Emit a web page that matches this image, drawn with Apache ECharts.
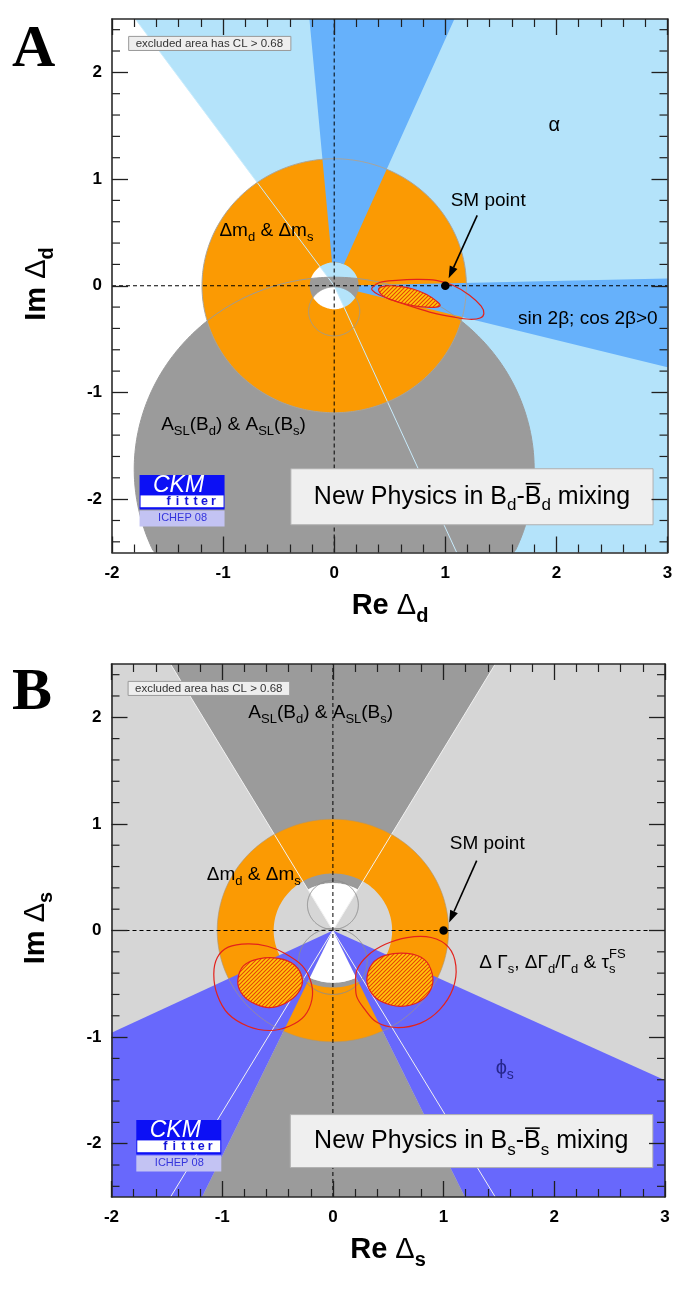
<!DOCTYPE html>
<html>
<head>
<meta charset="utf-8">
<script src="https://cdn.jsdelivr.net/npm/echarts@6/dist/echarts.min.js"></script>
<style>
html,body{margin:0;padding:0;background:#fff;}
#chart{width:685px;height:1296px;}
</style>
</head>
<body>
<div id="chart"></div>
<script>
// ================= DATA =================
const xLimits = [-2, 3];
const yLimits = [-2.5, 2.5];
const xTicks = [-2, -1, 0, 1, 2, 3];
const yTicks = [-2, -1, 0, 1, 2];

// ---- Panel A : B_d mixing (Re/Im Delta_d) ----
const smPointA = [1, 0];
const alphaWedgeA = [-66.2, 125.6];          // deg, alpha region (light blue)
const aslDiskA = [0, -1.72, 1.80];           // A_SL disk: cx, cy, r
const aslHoleA = [0, -0.24, 0.23];           // A_SL inner excluded disk
const dmRingA = [0, 0, 0.22, 1.19];          // Delta m ring: cx, cy, rIn, rOut
const sin2bWedgesA = [[66.6, 95.1], [-14.3, 1.3]];
const fitOuterA = [[0.342,-0.017],[0.408,0.030],[0.558,0.051],[0.738,0.060],[0.918,0.051],[1.068,0.004],[1.218,-0.089],[1.323,-0.192],[1.347,-0.261],[1.314,-0.302],[1.218,-0.314],[1.068,-0.292],[0.888,-0.254],[0.708,-0.198],[0.528,-0.136],[0.393,-0.080],[0.342,-0.042]];
const fitInnerA = [[0.402,-0.027],[0.468,-0.002],[0.588,-0.005],[0.708,-0.030],[0.828,-0.080],[0.918,-0.142],[0.954,-0.183],[0.918,-0.201],[0.828,-0.201],[0.708,-0.186],[0.588,-0.155],[0.483,-0.118],[0.423,-0.080]];

// ---- Panel B : B_s mixing (Re/Im Delta_s) ----
const smPointB = [1, 0];
const aslWedgesB = [[59.6, 120.4], [-115.3, -64.5]];
const aslCoreRadiiB = [0.445, 0.49];
const aslCirclesB = [[0, 0.24, 0.23], [0, -0.29, 0.31]];
const dmRingB = [0, 0, 0.535, 1.045];
const phiWedgesB = [[-154.4, -115.3], [-64.5, -25.1]];
const fitOuterLeftB = [[-1.076,-0.410],[-1.044,-0.254],[-0.946,-0.156],[-0.768,-0.125],[-0.591,-0.148],[-0.433,-0.215],[-0.276,-0.332],[-0.197,-0.488],[-0.189,-0.645],[-0.256,-0.801],[-0.394,-0.898],[-0.571,-0.938],[-0.768,-0.898],[-0.946,-0.781],[-1.044,-0.605]];
const fitOuterRightB = [[0.205,-0.527],[0.217,-0.371],[0.315,-0.234],[0.473,-0.129],[0.670,-0.066],[0.887,-0.066],[1.044,-0.156],[1.111,-0.332],[1.084,-0.547],[0.965,-0.742],[0.788,-0.871],[0.571,-0.910],[0.394,-0.859],[0.276,-0.723],[0.217,-0.625]];
const fitInnerLeftB = [[-0.859,-0.469],[-0.808,-0.332],[-0.670,-0.266],[-0.493,-0.262],[-0.347,-0.324],[-0.276,-0.457],[-0.315,-0.586],[-0.433,-0.684],[-0.583,-0.723],[-0.729,-0.676],[-0.827,-0.586]];
const fitInnerRightB = [[0.307,-0.449],[0.355,-0.313],[0.473,-0.234],[0.670,-0.215],[0.827,-0.273],[0.898,-0.410],[0.887,-0.547],[0.788,-0.664],[0.611,-0.711],[0.433,-0.664],[0.335,-0.566]];

// ================= STYLE =================
const FONT = '"Liberation Sans", Arial, Helvetica, sans-serif';
const SERIF = '"Liberation Serif", "Times New Roman", serif';
const COL = {
  lightBlue: '#b4e3fa', blueA: '#66b1fb', grayA: '#9b9b9b', orange: '#fb9a03',
  lightGray: '#d6d6d6', darkGray: '#9b9b9b', blueB: '#6868fc',
  red: '#e3221c', text: '#000'
};

// ================= GEOMETRY HELPERS =================
const D2R = Math.PI / 180;
const RECT = [[xLimits[0], yLimits[0]], [xLimits[1], yLimits[0]], [xLimits[1], yLimits[1]], [xLimits[0], yLimits[1]]];
function circ(cx, cy, r, rev) {
  const n = 220, p = [];
  for (let i = 0; i < n; i++) {
    const a = (rev ? -1 : 1) * 2 * Math.PI * i / n;
    p.push([cx + r * Math.cos(a), cy + r * Math.sin(a)]);
  }
  return p;
}
function sector(a0, a1, rIn, R) {
  R = R || 40;
  const n = Math.max(2, Math.ceil((a1 - a0) / 2)), p = [];
  for (let i = 0; i <= n; i++) { const a = (a0 + (a1 - a0) * i / n) * D2R; p.push([R * Math.cos(a), R * Math.sin(a)]); }
  if (rIn > 0) { for (let i = n; i >= 0; i--) { const a = (a0 + (a1 - a0) * i / n) * D2R; p.push([rIn * Math.cos(a), rIn * Math.sin(a)]); } }
  else p.push([0, 0]);
  return p;
}
function clip(subject, clipper) {
  let out = subject;
  for (let i = 0; i < clipper.length; i++) {
    const A = clipper[i], B = clipper[(i + 1) % clipper.length];
    const inp = out; out = [];
    if (!inp.length) break;
    const side = p => (B[0] - A[0]) * (p[1] - A[1]) - (B[1] - A[1]) * (p[0] - A[0]);
    for (let j = 0; j < inp.length; j++) {
      const Pp = inp[j], Q = inp[(j + 1) % inp.length];
      const sp = side(Pp), sq = side(Q);
      if (sp >= 0) out.push(Pp);
      if ((sp >= 0) !== (sq >= 0)) {
        const t = sp / (sp - sq);
        out.push([Pp[0] + t * (Q[0] - Pp[0]), Pp[1] + t * (Q[1] - Pp[1])]);
      }
    }
  }
  return out;
}
function insideRect(p) { return p[0] >= xLimits[0] && p[0] <= xLimits[1] && p[1] >= yLimits[0] && p[1] <= yLimits[1]; }
function arcs(cx, cy, r) {
  const segs = []; let cur = [];
  const n = 360;
  for (let i = 0; i <= n; i++) {
    const a = 2 * Math.PI * i / n, p = [cx + r * Math.cos(a), cy + r * Math.sin(a)];
    if (insideRect(p)) cur.push(p); else { if (cur.length > 1) segs.push(cur); cur = []; }
  }
  if (cur.length > 1) segs.push(cur);
  return segs;
}
function ray(angle) {
  const dx = Math.cos(angle * D2R), dy = Math.sin(angle * D2R);
  let t = 1e9;
  if (dx > 1e-9) t = Math.min(t, xLimits[1] / dx); if (dx < -1e-9) t = Math.min(t, xLimits[0] / dx);
  if (dy > 1e-9) t = Math.min(t, yLimits[1] / dy); if (dy < -1e-9) t = Math.min(t, yLimits[0] / dy);
  return [[0, 0], [t * dx, t * dy]];
}

// ================= ELEMENT HELPERS =================
function polyEl(P, pts, style, smooth) { return {type: 'polygon', shape: {points: pts.map(P), smooth: smooth || 0}, style: style}; }
function lineEl(P, pts, style) { return {type: 'polyline', shape: {points: pts.map(P)}, style: Object.assign({fill: null}, style)}; }
function ringEl(P, rings, style) {
  let d = '';
  rings.forEach(r => {
    if (!r.length) return;
    r.forEach((p, i) => { const c = P(p); d += (i ? 'L' : 'M') + c[0].toFixed(2) + ' ' + c[1].toFixed(2) + ' '; });
    d += 'Z ';
  });
  return {type: 'path', shape: {pathData: d}, style: style};
}
const mctx = document.createElement('canvas').getContext('2d');
function textW(t, font) { mctx.font = font; return mctx.measureText(t).width; }
// segs: [text, kind, weight, noAdvance]; kind: n | sub | sup | bar
function richText(segs, size, opt) {
  opt = opt || {};
  const family = opt.family || FONT, color = opt.color || COL.text;
  const small = Math.round(size * 0.68);
  const kids = []; let x = 0, pend = 0;
  segs.forEach(s => {
    const t = s[0], kind = s[1] || 'n', weight = s[2] || opt.weight || 'normal';
    const fs = (kind === 'sub' || kind === 'sup') ? small : size;
    const font = weight + ' ' + fs + 'px ' + family;
    const dy = kind === 'sub' ? size * 0.36 : kind === 'sup' ? -size * 0.45 : 0;
    const w = textW(t, font);
    kids.push({type: 'text', x: x, y: dy, style: {text: t, font: font, fill: color, textAlign: 'left', textVerticalAlign: 'middle', align: 'left', verticalAlign: 'middle'}});
    if (kind === 'bar') kids.push({type: 'line', shape: {x1: x + 1, y1: -size * 0.52, x2: x + w - 1, y2: -size * 0.52}, style: {stroke: color, lineWidth: Math.max(1.1, size / 16)}});
    if (s[3]) { pend = Math.max(pend, w); } else { x += Math.max(w, pend); pend = 0; }
  });
  return {kids: kids, width: x};
}
function placeText(segs, size, px, py, align, opt) {
  const r = richText(segs, size, opt);
  const f = align === 'left' ? 0 : align === 'right' ? 1 : 0.5;
  return {type: 'group', x: px - r.width * f, y: py, children: r.kids};
}
function hatchCanvas() {
  const c = document.createElement('canvas'); c.width = 4; c.height = 4;
  const g = c.getContext('2d');
  g.fillStyle = '#ffc80a'; g.fillRect(0, 0, 4, 4);
  g.strokeStyle = '#e8400a'; g.lineWidth = 1.1;
  g.beginPath(); g.moveTo(-1, 5); g.lineTo(5, -1); g.moveTo(-1, 1); g.lineTo(1, -1); g.moveTo(3, 5); g.lineTo(5, 3); g.stroke();
  return c;
}
const HATCH = {image: hatchCanvas(), repeat: 'repeat'};

function arrowEl(P, from, to) {
  const a = P(from), b = P(to);
  const dx = b[0] - a[0], dy = b[1] - a[1], L = Math.hypot(dx, dy), ux = dx / L, uy = dy / L;
  const hl = 12, hw = 4.2;
  const base = [b[0] - ux * hl, b[1] - uy * hl];
  return [
    {type: 'line', shape: {x1: a[0], y1: a[1], x2: base[0], y2: base[1]}, style: {stroke: '#000', lineWidth: 1.6}},
    {type: 'polygon', shape: {points: [b, [base[0] - uy * hw, base[1] + ux * hw], [base[0] + uy * hw, base[1] - ux * hw]]}, style: {fill: '#000'}}
  ];
}
function boxEl(P, x0, y0, x1, y1, fill, stroke) {
  const a = P([x0, y0]), b = P([x1, y1]);
  return {type: 'rect', shape: {x: a[0], y: a[1], width: b[0] - a[0], height: b[1] - a[1]}, style: {fill: fill, stroke: stroke, lineWidth: 1}};
}
function logoEl(P, at) {
  const o = P(at);
  const blue = '#0c10f5';
  const kids = [
    {type: 'rect', shape: {x: 0, y: 0, width: 85, height: 20}, style: {fill: blue}},
    {type: 'text', x: 39, y: 10.5, style: {text: 'CKM', font: 'italic 23px ' + FONT, fill: '#fff', textAlign: 'center', textVerticalAlign: 'middle', align: 'center', verticalAlign: 'middle'}},
    {type: 'rect', shape: {x: 0.5, y: 20, width: 84, height: 13}, style: {fill: '#fff', stroke: blue, lineWidth: 1}},
    {type: 'rect', shape: {x: 0, y: 32.5, width: 85, height: 2}, style: {fill: blue}},
    {type: 'rect', shape: {x: 0, y: 35.5, width: 85, height: 16}, style: {fill: '#c3c3f3'}},
    {type: 'text', x: 43, y: 43.5, style: {text: 'ICHEP 08', font: '11px ' + FONT, fill: '#3434dc', textAlign: 'center', textVerticalAlign: 'middle', align: 'center', verticalAlign: 'middle'}}
  ];
  'fitter'.split('').forEach((ch, i) => {
    kids.push({type: 'text', x: 29 + i * 9, y: 26.5, style: {text: ch, font: 'bold 12.5px ' + FONT, fill: '#1414d8', textAlign: 'center', textVerticalAlign: 'middle', align: 'center', verticalAlign: 'middle'}});
  });
  return {type: 'group', x: o[0], y: o[1], children: kids};
}
function minorYTicks(P, k) {
  for (let i = 0; i < yTicks.length; i++) {
    for (let j = -2; j <= 2; j++) {
      if (j === 0) continue;
      const v = yTicks[i] + j * 0.2;
      if (j < 0 && i > 0 && v <= yTicks[i - 1] + 0.5) continue;
      if (v <= yLimits[0] + 1e-6 || v >= yLimits[1] - 1e-6) continue;
      const l = P([xLimits[0], v]), r = P([xLimits[1], v]);
      k.push({type: 'line', shape: {x1: l[0], y1: l[1], x2: l[0] + 8, y2: l[1]}, style: {stroke: '#202020', lineWidth: 1.2}});
      k.push({type: 'line', shape: {x1: r[0], y1: r[1], x2: r[0] - 8, y2: r[1]}, style: {stroke: '#202020', lineWidth: 1.2}});
    }
  }
}
function dashedAxes(P, k) {
  const st = {stroke: '#000', lineWidth: 1, lineDash: [4, 3]};
  k.push(lineEl(P, [[xLimits[0], 0], [xLimits[1], 0]], st));
  k.push(lineEl(P, [[0, yLimits[0]], [0, yLimits[1]]], st));
}
function smMarker(P, k, pt, labelAt, arrowFrom, arrowTo) {
  k.push(placeText([['SM point']], 19, P(labelAt)[0], P(labelAt)[1], 'center'));
  arrowEl(P, arrowFrom, arrowTo).forEach(e => k.push(e));
  const c = P(pt);
  k.push({type: 'circle', shape: {cx: c[0], cy: c[1], r: 4.3}, style: {fill: '#000'}});
}
function excludedBox(P, k) {
  k.push(boxEl(P, -1.85, 2.337, -0.39, 2.205, '#eeeeee', '#9a9a9a'));
  const a = P([-1.85, 2.271]);
  k.push(placeText([['excluded area has CL > 0.68']], 11.5, a[0] + 7, a[1], 'left', {color: '#333'}));
}

// ================= RENDERERS =================
function renderA(params, api) {
  const P = p => api.coord(p);
  const k = [];
  k.push(polyEl(P, clip(sector(alphaWedgeA[0], alphaWedgeA[1], 0), RECT), {fill: COL.lightBlue}));
  k.push(ringEl(P, [clip(circ(aslDiskA[0], aslDiskA[1], aslDiskA[2]), RECT), circ(aslHoleA[0], aslHoleA[1], aslHoleA[2], true)], {fill: COL.grayA}));
  k.push(ringEl(P, [clip(circ(dmRingA[0], dmRingA[1], dmRingA[3]), RECT), circ(dmRingA[0], dmRingA[1], dmRingA[2], true)], {fill: COL.orange}));
  sin2bWedgesA.forEach(w => k.push(polyEl(P, clip(sector(w[0], w[1], dmRingA[2]), RECT), {fill: COL.blueA})));
  // constraint outlines
  [alphaWedgeA[0], alphaWedgeA[1]].forEach(a => k.push(lineEl(P, ray(a), {stroke: '#c9ecfd', lineWidth: 1})));
  arcs(aslDiskA[0], aslDiskA[1], aslDiskA[2]).forEach(s => k.push(lineEl(P, s, {stroke: '#9a9a9a', lineWidth: 1})));
  arcs(aslHoleA[0], aslHoleA[1], aslHoleA[2]).forEach(s => k.push(lineEl(P, s, {stroke: '#9a9a9a', lineWidth: 1})));
  arcs(dmRingA[0], dmRingA[1], dmRingA[3]).forEach(s => k.push(lineEl(P, s, {stroke: '#a9a49a', lineWidth: 1})));
  dashedAxes(P, k);
  // fit contours
  k.push(polyEl(P, fitOuterA, {fill: null, stroke: COL.red, lineWidth: 1.2}, 0.35));
  k.push(polyEl(P, fitInnerA, {fill: HATCH, stroke: COL.red, lineWidth: 1.2}, 0.35));
  // labels
  smMarker(P, k, smPointA, [1.386, 0.797], [1.287, 0.659], [1.03, 0.07]);
  k.push(placeText([['α']], 20, P([1.98, 1.50])[0], P([1.98, 1.50])[1], 'center'));
  k.push(placeText([['Δm'], ['d', 'sub'], [' & Δm'], ['s', 'sub']], 19, P([-0.61, 0.514])[0], P([-0.61, 0.514])[1], 'center'));
  k.push(placeText([['sin 2β; cos 2β>0']], 19, P([2.283, -0.307])[0], P([2.283, -0.307])[1], 'center'));
  k.push(placeText([['A'], ['SL', 'sub'], ['(B'], ['d', 'sub'], [') & A'], ['SL', 'sub'], ['(B'], ['s', 'sub'], [')']], 19, P([-0.906, -1.30])[0], P([-0.906, -1.30])[1], 'center'));
  excludedBox(P, k);
  k.push(boxEl(P, -0.39, -1.715, 2.87, -2.24, '#efefef', '#b0b0b0'));
  const c = P([1.24, -1.977]);
  k.push(placeText([['New Physics in B'], ['d', 'sub'], ['-'], ['B', 'bar'], ['d', 'sub'], [' mixing']], 25, c[0], c[1], 'center'));
  k.push(logoEl(P, [-1.752, -1.773]));
  minorYTicks(P, k);
  return {type: 'group', children: k};
}

function renderB(params, api) {
  const P = p => api.coord(p);
  const k = [];
  k.push(polyEl(P, RECT, {fill: COL.lightGray}));
  aslWedgesB.forEach((w, i) => {
    k.push(polyEl(P, clip(sector(w[0], w[1], aslCoreRadiiB[i]), RECT), {fill: COL.darkGray}));
    k.push(polyEl(P, sector(w[0], w[1], 0, aslCoreRadiiB[i]), {fill: '#ffffff'}));
  });
  k.push(ringEl(P, [clip(circ(dmRingB[0], dmRingB[1], dmRingB[3]), RECT), circ(dmRingB[0], dmRingB[1], dmRingB[2], true)], {fill: COL.orange}));
  phiWedgesB.forEach(w => k.push(polyEl(P, clip(sector(w[0], w[1], 0), RECT), {fill: COL.blueB})));
  // outlines
  [aslWedgesB[0][0], aslWedgesB[0][1]].forEach(a => { k.push(lineEl(P, ray(a), {stroke: '#f2f2f2', lineWidth: 1})); k.push(lineEl(P, ray(a - 180), {stroke: '#f2f2f2', lineWidth: 1})); });
  aslCirclesB.forEach(h => arcs(h[0], h[1], h[2]).forEach(s => k.push(lineEl(P, s, {stroke: '#8e8e8e', lineWidth: 1}))));
  arcs(dmRingB[0], dmRingB[1], dmRingB[3]).forEach(s => k.push(lineEl(P, s, {stroke: 'rgba(170,150,120,0.8)', lineWidth: 0.8})));
  dashedAxes(P, k);
  // fit contours
  [fitOuterLeftB, fitOuterRightB].forEach(c => k.push(polyEl(P, c, {fill: null, stroke: COL.red, lineWidth: 1.2}, 0.35)));
  [fitInnerLeftB, fitInnerRightB].forEach(c => k.push(polyEl(P, c, {fill: HATCH, stroke: COL.red, lineWidth: 1.2}, 0.35)));
  // labels
  smMarker(P, k, smPointB, [1.394, 0.81], [1.299, 0.655], [1.05, 0.075]);
  k.push(placeText([['A'], ['SL', 'sub'], ['(B'], ['d', 'sub'], [') & A'], ['SL', 'sub'], ['(B'], ['s', 'sub'], [')']], 19, P([-0.11, 2.04])[0], P([-0.11, 2.04])[1], 'center'));
  k.push(placeText([['Δm'], ['d', 'sub'], [' & Δm'], ['s', 'sub']], 19, P([-0.715, 0.52])[0], P([-0.715, 0.52])[1], 'center'));
  k.push(placeText([['Δ Γ'], ['s', 'sub'], [', ΔΓ'], ['d', 'sub'], ['/Γ'], ['d', 'sub'], [' & τ'], ['s', 'sub', null, true], ['FS', 'sup']], 19, P([1.323, -0.30])[0], P([1.323, -0.30])[1], 'left'));
  k.push(placeText([['ϕ'], ['s', 'sub']], 20, P([1.47, -1.29])[0], P([1.47, -1.29])[1], 'left', {color: '#26268c'}));
  excludedBox(P, k);
  k.push(boxEl(P, -0.385, -1.727, 2.89, -2.224, '#efefef', '#b0b0b0'));
  const c = P([1.25, -1.976]);
  k.push(placeText([['New Physics in B'], ['s', 'sub'], ['-'], ['B', 'bar'], ['s', 'sub'], [' mixing']], 25, c[0], c[1], 'center'));
  k.push(logoEl(P, [-1.776, -1.777]));
  minorYTicks(P, k);
  return {type: 'group', children: k};
}

// ================= AXES =================
function xAxisOpt(grid, pos, labels) {
  return {
    type: 'value', gridIndex: grid, position: pos, min: xLimits[0], max: xLimits[1], interval: 1,
    axisLine: {show: true, onZero: false, lineStyle: {color: '#2a2a2a', width: 1.6}},
    axisTick: {show: true, inside: true, length: 16, lineStyle: {color: '#202020', width: 1.3}},
    minorTick: {show: true, splitNumber: 5, length: 8, lineStyle: {color: '#202020', width: 1.2}},
    splitLine: {show: false}, minorSplitLine: {show: false},
    axisLabel: {show: labels, margin: 12, color: '#000', fontSize: 17, fontWeight: 'bold', fontFamily: FONT, showMinLabel: true, showMaxLabel: true},
    z: 20
  };
}
function yAxisOpt(grid, pos, labels) {
  return {
    type: 'value', gridIndex: grid, position: pos, min: yLimits[0], max: yLimits[1], splitNumber: 5,
    axisLine: {show: true, onZero: false, lineStyle: {color: '#2a2a2a', width: 1.6}},
    axisTick: {show: true, inside: true, length: 16, customValues: yTicks, lineStyle: {color: '#202020', width: 1.3}},
    minorTick: {show: false},
    splitLine: {show: false}, minorSplitLine: {show: false},
    axisLabel: {show: labels, customValues: yTicks, margin: 10, color: '#000', fontSize: 17, fontWeight: 'bold', fontFamily: FONT,
      formatter: v => (Math.abs(v - Math.round(v)) < 1e-6 ? String(Math.round(v)) : '')},
    z: 20
  };
}

function titleGroup(segs, size, cx, cy, rotate) {
  const r = richText(segs, size, {weight: 'bold'});
  return {type: 'group', x: cx, y: cy, rotation: rotate ? Math.PI / 2 : 0,
    children: [{type: 'group', x: -r.width / 2, y: 0, children: r.kids}]};
}

const chart = echarts.init(document.getElementById('chart'), null, {renderer: 'canvas'});
chart.setOption({
  animation: false,
  backgroundColor: '#ffffff',
  grid: [
    {left: 112, top: 19, width: 555.5, height: 533.5},
    {left: 111.5, top: 664, width: 553.5, height: 533}
  ],
  xAxis: [xAxisOpt(0, 'bottom', true), xAxisOpt(0, 'top', false), xAxisOpt(1, 'bottom', true), xAxisOpt(1, 'top', false)],
  yAxis: [yAxisOpt(0, 'left', true), yAxisOpt(0, 'right', false), yAxisOpt(1, 'left', true), yAxisOpt(1, 'right', false)],
  series: [
    {type: 'custom', name: 'Bd', xAxisIndex: 0, yAxisIndex: 0, data: [[0, 0]], renderItem: renderA, silent: true, z: 2},
    {type: 'custom', name: 'Bs', xAxisIndex: 2, yAxisIndex: 2, data: [[0, 0]], renderItem: renderB, silent: true, z: 2}
  ],
  graphic: [
    {type: 'text', left: 12, top: 20, style: {text: 'A', font: 'bold 60px ' + SERIF, fill: '#000'}},
    {type: 'text', left: 12, top: 663, style: {text: 'B', font: 'bold 60px ' + SERIF, fill: '#000'}},
    titleGroup([['Re '], ['Δ', 'n', 'normal'], ['d', 'sub']], 29, 390, 606, false),
    titleGroup([['Im '], ['Δ', 'n', 'normal'], ['d', 'sub']], 29, 37, 284, true),
    titleGroup([['Re '], ['Δ', 'n', 'normal'], ['s', 'sub']], 29, 388, 1250, false),
    titleGroup([['Im '], ['Δ', 'n', 'normal'], ['s', 'sub']], 29, 36, 928, true)
  ]
});
</script>
</body>
</html>
